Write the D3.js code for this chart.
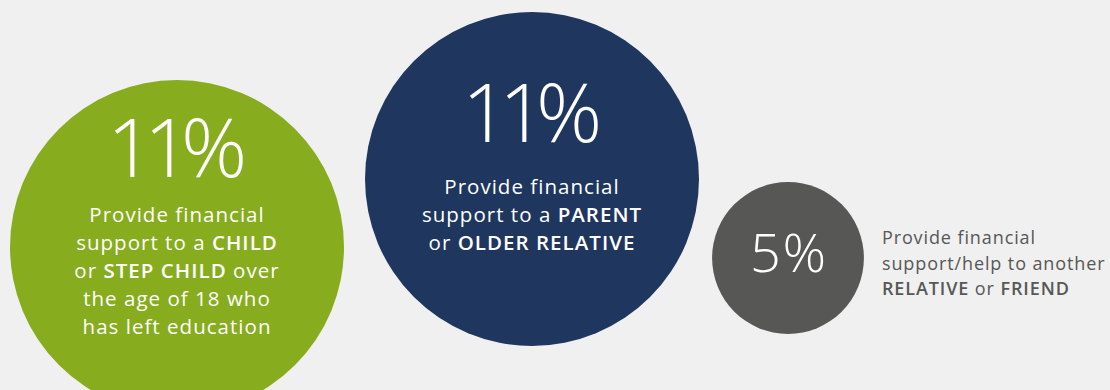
<!DOCTYPE html>
<html>
<head>
<meta charset="utf-8">
<script src="https://cdn.jsdelivr.net/npm/d3@7"></script>
<style>
  html, body { margin: 0; padding: 0; background: #f0f0f0; }
  svg { display: block; }
  text { font-family: "Open Sans", Lato, sans-serif; }
</style>
</head>
<body>
<svg id="chart" width="1110" height="390"></svg>
<script>
// Share of people giving financial support, by who receives it
const groups = ["child", "parent", "other"];
const values = [11, 11, 5];
const valueLabels = ["11%", "11%", "5%"];
const colors = ["#87ac1e", "#1f365f", "#575756"];
// Description lines; each segment is [text, isBold]
const descriptions = [
  [
    [["Provide financial", false]],
    [["support to a ", false], ["CHILD", true]],
    [["or ", false], ["STEP CHILD", true], [" over", false]],
    [["the age of 18 who", false]],
    [["has left education", false]]
  ],
  [
    [["Provide financial", false]],
    [["support to a ", false], ["PARENT", true]],
    [["or ", false], ["OLDER RELATIVE", true]]
  ],
  [
    [["Provide financial", false]],
    [["support/help to another", false]],
    [["RELATIVE", true], [" or ", false], ["FRIEND", true]]
  ]
];

const svg = d3.select("#chart");

// bubble radius grows linearly with the percentage
const r = d3.scaleLinear().domain([0, 11]).range([0, 167]);

// layout of bubbles across the strip
const layout = [
  { cx: 177, cy: 247, labelDy: -70, fontSize: 82, tracking: -0.12, textDy: -25, inside: true },
  { cx: 532, cy: 179, labelDy: -37, fontSize: 82, tracking: -0.12, textDy: 15, inside: true },
  { cx: 788, cy: 258, labelDy: 14, fontSize: 54, tracking: 0.03, inside: false }
];

const g = svg.selectAll("g.bubble")
  .data(groups.map((k, i) => ({ key: k, value: values[i], label: valueLabels[i], color: colors[i], lines: descriptions[i], pos: layout[i] })))
  .join("g")
  .attr("class", "bubble")
  .attr("transform", d => `translate(${d.pos.cx},${d.pos.cy})`);

g.append("circle")
  .attr("r", d => r(d.value))
  .attr("fill", d => d.color);

// big percentage figure; offset by half the tracking so the glyphs stay centred
g.append("text")
  .attr("class", "value")
  .attr("text-anchor", "middle")
  .attr("x", d => d.pos.tracking * d.pos.fontSize / 2)
  .attr("y", d => d.pos.labelDy)
  .attr("fill", "#ffffff")
  .style("font-size", d => d.pos.fontSize + "px")
  .style("font-weight", 360)
  .style("letter-spacing", d => d.pos.tracking + "em")
  .text(d => d.label);

// multi-line descriptions with bold keywords
g.each(function(d) {
  const sel = d3.select(this);
  const inside = d.pos.inside;
  const t = sel.append("text")
    .attr("text-anchor", inside ? "middle" : "start")
    .attr("fill", inside ? "#ffffff" : "#575756")
    .style("font-size", inside ? "20.5px" : "18px")
    .style("letter-spacing", "0.05em");
  const lineH = inside ? 28 : 25.5;
  const x0 = inside ? 0 : r(d.value) + 18;
  const y0 = inside ? d.pos.textDy : -14;
  d.lines.forEach((segs, li) => {
    segs.forEach((s, si) => {
      const ts = t.append("tspan")
        .style("font-weight", s[1] ? 600 : 400)
        .text(s[0]);
      if (si === 0) ts.attr("x", x0).attr("y", y0 + li * lineH);
    });
  });
});
</script>
</body>
</html>
